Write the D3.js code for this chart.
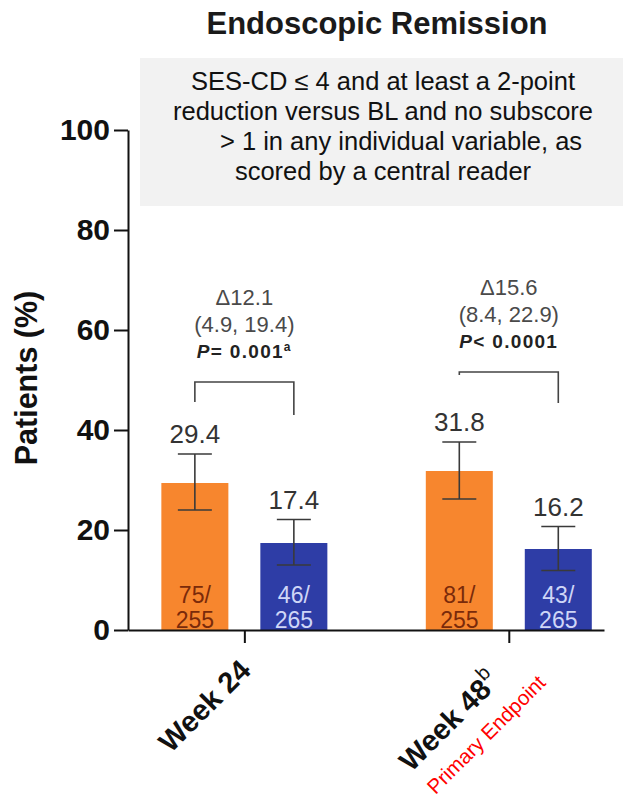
<!DOCTYPE html>
<html>
<head>
<meta charset="utf-8">
<script src="https://cdn.jsdelivr.net/npm/d3@7"></script>
<style>
  html, body { margin: 0; padding: 0; background: #fff; }
  svg { display: block; font-family: "Liberation Sans", Arial, Helvetica, sans-serif; }
</style>
</head>
<body>
<svg id="chart" width="623" height="801"></svg>
<script>
// Visit categories and their superscript footnote marks
const weeks = ["Week 24", "Week 48"];
const weekMarks = ["", "b"];

// Two treatment arms per visit
const arms = ["active", "placebo"];

// Active arm: response rate (%), 95% CI and responders / N
const activePct = [29.4, 31.8];
const activeLow = [24.0, 26.2];
const activeHigh = [35.2, 37.6];
const activeResponders = [75, 81];
const activeTotal = [255, 255];

// Placebo arm
const placeboPct = [17.4, 16.2];
const placeboLow = [13.0, 11.9];
const placeboHigh = [22.1, 20.7];
const placeboResponders = [46, 43];
const placeboTotal = [265, 265];

// Treatment difference annotations
const deltaLabels = ["\u039412.1", "\u039415.6"];
const deltaCi = ["(4.9, 19.4)", "(8.4, 22.9)"];
const pText = ["= 0.001", "< 0.0001"];
const pMarks = ["a", ""];
// Comparison bracket levels (in % units)
const bracketLevel = [49.6, 51.6];
const bracketLeftEnd = [45.6, 51.0];
const bracketRightEnd = [43.0, 45.4];

const yTicks = [0, 20, 40, 60, 80, 100];

const colors = { active: "#F7862E", placebo: "#2E3DA6" };
const innerText = { active: "#7a2a0a", placebo: "#cfd6f7" };

const rows = weeks.map((w, i) => ({
  week: w,
  mark: weekMarks[i],
  bars: [
    { arm: "active", pct: activePct[i], lo: activeLow[i], hi: activeHigh[i], n: activeResponders[i], total: activeTotal[i] },
    { arm: "placebo", pct: placeboPct[i], lo: placeboLow[i], hi: placeboHigh[i], n: placeboResponders[i], total: placeboTotal[i] }
  ],
  delta: deltaLabels[i], ci: deltaCi[i], p: pText[i], pMark: pMarks[i],
  bTop: bracketLevel[i], bLeft: bracketLeftEnd[i], bRight: bracketRightEnd[i]
}));

const svg = d3.select("#chart");
const plot = { left: 128, right: 604, top: 130, bottom: 630 };

const y = d3.scaleLinear().domain([0, 100]).range([plot.bottom, plot.top]);
const x = d3.scalePoint().domain(weeks).range([plot.left, plot.right]).padding(0.4).align(0.55);
const xs = d3.scaleBand().domain(arms).range([-83, 83]).paddingInner(0.323);

// Title
svg.append("text")
  .attr("x", 377).attr("y", 34)
  .attr("text-anchor", "middle")
  .attr("font-size", 31).attr("font-weight", "bold").attr("fill", "#1a1a1a")
  .text("Endoscopic Remission");

// Definition box
svg.append("rect")
  .attr("x", 140).attr("y", 58).attr("width", 483).attr("height", 148)
  .attr("fill", "#f2f2f2");
const defLines = [
  "SES-CD \u2264 4 and at least a 2-point",
  "reduction versus BL and no subscore",
  "> 1 in any individual variable, as",
  "scored by a central reader"
];
const defShift = [0, 0, 18, 0];
svg.append("g").selectAll("text").data(defLines).join("text")
  .attr("x", (d, i) => 383 + defShift[i])
  .attr("y", (d, i) => 90 + i * 30)
  .attr("text-anchor", "middle")
  .attr("font-size", 25.5).attr("fill", "#111")
  .text(d => d);

// Y axis
const yAxis = svg.append("g")
  .attr("transform", `translate(${plot.left},0)`)
  .call(d3.axisLeft(y).tickValues(yTicks).tickSize(14).tickSizeOuter(0).tickPadding(4));
yAxis.select(".domain").attr("stroke", "#111").attr("stroke-width", 2);
yAxis.selectAll(".tick line").attr("stroke", "#111").attr("stroke-width", 2);
yAxis.selectAll(".tick text")
  .attr("font-size", 30).attr("font-weight", "bold").attr("fill", "#111")
  .attr("font-family", "\"Liberation Sans\", Arial, sans-serif");

svg.append("text")
  .attr("transform", "translate(37,378) rotate(-90)")
  .attr("text-anchor", "middle")
  .attr("font-size", 30.5).attr("font-weight", "bold").attr("fill", "#111")
  .text("Patients (%)");

// Bars
const groups = svg.append("g").selectAll("g.week").data(rows).join("g")
  .attr("class", "week")
  .attr("transform", d => `translate(${x(d.week)},0)`);

groups.selectAll("rect").data(d => d.bars).join("rect")
  .attr("x", d => xs(d.arm))
  .attr("width", xs.bandwidth())
  .attr("y", d => y(d.pct))
  .attr("height", d => y(0) - y(d.pct))
  .attr("fill", d => colors[d.arm]);

// Error bars
const cap = 17;
const eb = groups.selectAll("g.err").data(d => d.bars).join("g").attr("class", "err")
  .attr("stroke", "#3a3a3a").attr("stroke-width", 1.6);
eb.append("line")
  .attr("x1", d => xs(d.arm) + xs.bandwidth() / 2).attr("x2", d => xs(d.arm) + xs.bandwidth() / 2)
  .attr("y1", d => y(d.lo)).attr("y2", d => y(d.hi));
eb.append("line")
  .attr("x1", d => xs(d.arm) + xs.bandwidth() / 2 - cap).attr("x2", d => xs(d.arm) + xs.bandwidth() / 2 + cap)
  .attr("y1", d => y(d.hi)).attr("y2", d => y(d.hi));
eb.append("line")
  .attr("x1", d => xs(d.arm) + xs.bandwidth() / 2 - cap).attr("x2", d => xs(d.arm) + xs.bandwidth() / 2 + cap)
  .attr("y1", d => y(d.lo)).attr("y2", d => y(d.lo));

// Value labels above error bars
groups.selectAll("text.val").data(d => d.bars).join("text")
  .attr("class", "val")
  .attr("x", d => xs(d.arm) + xs.bandwidth() / 2)
  .attr("y", d => y(d.hi) - 11)
  .attr("text-anchor", "middle")
  .attr("font-size", 26).attr("fill", "#333")
  .text(d => d.pct.toFixed(1));

// Responder counts inside bars
const counts = groups.selectAll("text.cnt").data(d => d.bars).join("text")
  .attr("class", "cnt")
  .attr("text-anchor", "middle")
  .attr("font-size", 23)
  .attr("fill", d => innerText[d.arm]);
counts.append("tspan")
  .attr("x", d => xs(d.arm) + xs.bandwidth() / 2)
  .attr("y", y(0) - 27)
  .text(d => d.n + "/");
counts.append("tspan")
  .attr("x", d => xs(d.arm) + xs.bandwidth() / 2)
  .attr("y", y(0) - 2)
  .text(d => d.total);

// Comparison brackets
const armCenter = a => xs(a) + xs.bandwidth() / 2;
groups.append("path")
  .attr("fill", "none").attr("stroke", "#444").attr("stroke-width", 1.6)
  .attr("d", d => `M${armCenter("active")},${y(d.bLeft)}V${y(d.bTop)}H${armCenter("placebo")}V${y(d.bRight)}`);

// Difference annotations
groups.append("text")
  .attr("x", 0).attr("y", d => y(d.bTop) - 77)
  .attr("text-anchor", "middle").attr("font-size", 22).attr("fill", "#4a4a4a")
  .text(d => d.delta);
groups.append("text")
  .attr("x", 0).attr("y", d => y(d.bTop) - 50)
  .attr("text-anchor", "middle").attr("font-size", 22).attr("fill", "#4a4a4a")
  .text(d => d.ci);
const pt = groups.append("text")
  .attr("x", 0).attr("y", d => y(d.bTop) - 24)
  .attr("text-anchor", "middle").attr("font-size", 19).attr("font-weight", "bold")
  .attr("letter-spacing", 1.3).attr("fill", "#222");
pt.append("tspan").attr("font-style", "italic").text("P");
pt.append("tspan").text(d => d.p);
pt.append("tspan").attr("font-size", 12).attr("dy", -7).text(d => d.pMark);

// X axis
const xAxis = svg.append("g")
  .attr("transform", `translate(0,${plot.bottom})`)
  .call(d3.axisBottom(x).tickSize(13).tickSizeOuter(0).tickFormat(""));
xAxis.select(".domain").attr("stroke", "#111").attr("stroke-width", 2);
xAxis.selectAll(".tick line").attr("stroke", "#111").attr("stroke-width", 2);

// Category labels; a footnote mark pushes the label further down the diagonal
const xl = svg.append("g").selectAll("text").data(rows).join("text")
  .attr("transform", d => {
    const off = d.mark ? 16 : 0;
    return `translate(${x(d.week) + 8 - off},${plot.bottom + 42 + off * 0.7}) rotate(-45)`;
  })
  .attr("text-anchor", "end")
  .attr("font-size", 29).attr("font-weight", "bold").attr("fill", "#111");
xl.append("tspan").text(d => d.week);
xl.append("tspan").attr("font-size", 20).attr("font-weight", "normal").attr("dy", -13).text(d => d.mark);

// Primary endpoint callout under the Week 48 label
svg.append("text")
  .attr("transform", `translate(${x(weeks[1]) + 38},${plot.bottom + 54}) rotate(-45)`)
  .attr("text-anchor", "end")
  .attr("font-size", 20.5).attr("fill", "#ff0000")
  .text("Primary Endpoint");
</script>
</body>
</html>
